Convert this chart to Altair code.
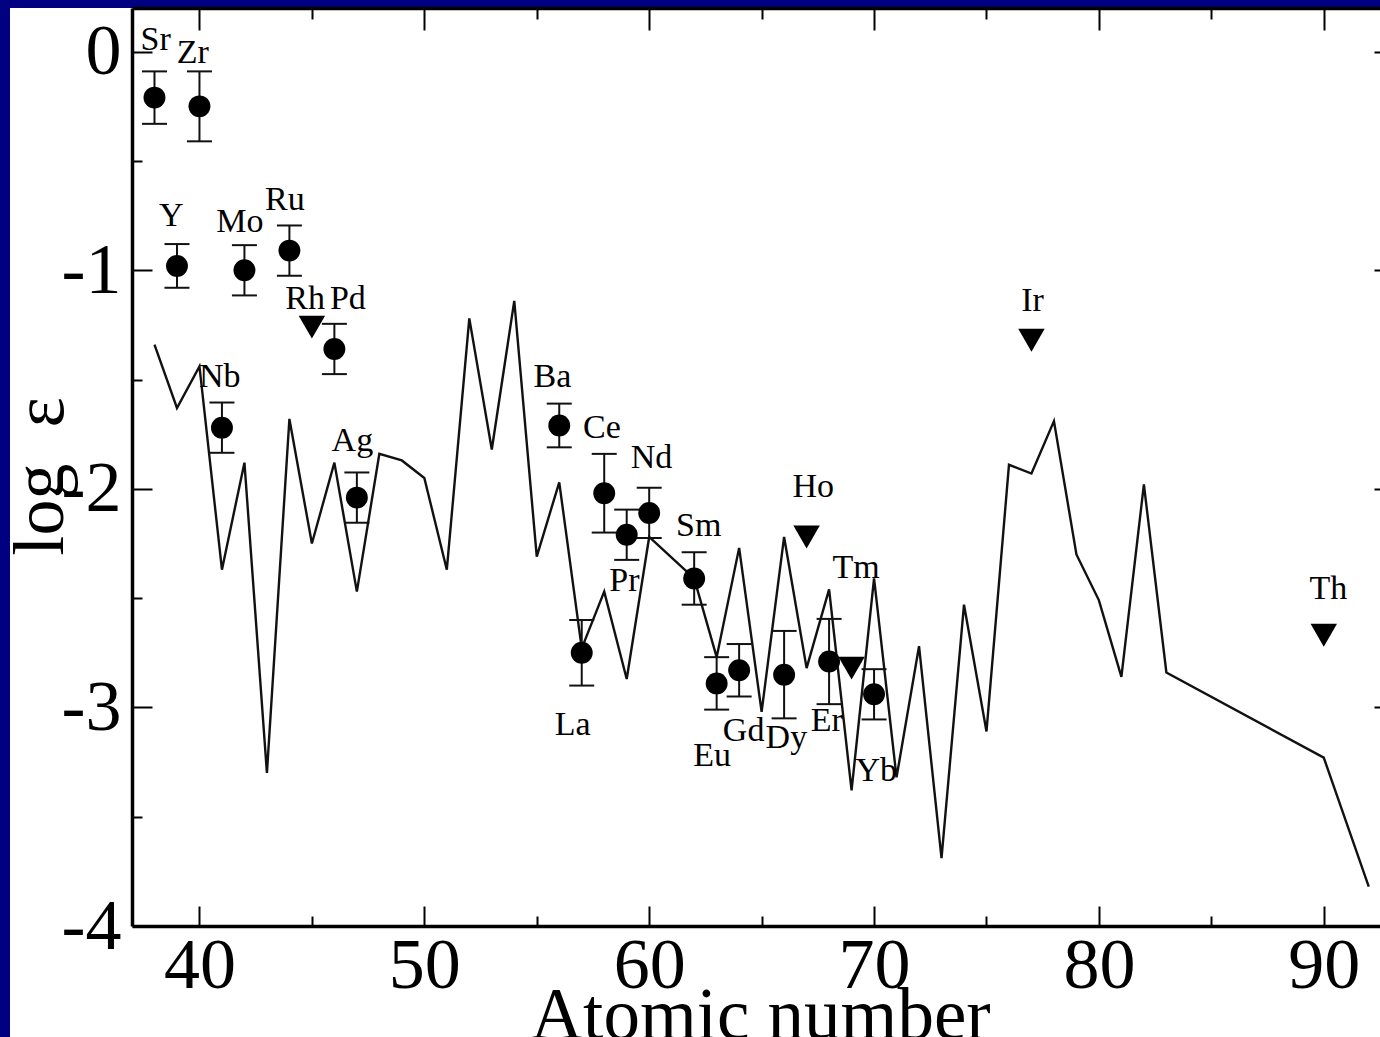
import altair as alt
import pandas as pd

# ---- plot geometry -------------------------------------------------------
W, H = 1248, 918
NAVY = "#000080"
FONT = "Liberation Serif"

# ---- scaled solar-system r-process pattern (the zig-zag curve) -----------
line_z = [38, 39, 40, 41, 42, 43, 44, 45, 46, 47, 48, 49, 50, 51, 52, 53, 54,
          55, 56, 57, 58, 59, 60, 62, 63, 64, 65, 66, 67, 68, 69, 70, 71, 72,
          73, 74, 75, 76, 77, 78, 79, 80, 81, 82, 83, 90, 92]
line_logeps = [-1.34, -1.63, -1.44, -2.37, -1.88, -3.30, -1.68, -2.25, -1.88,
               -2.47, -1.84, -1.87, -1.95, -2.37, -1.22, -1.82, -1.14, -2.31,
               -1.97, -2.73, -2.47, -2.87, -2.22, -2.41, -2.77, -2.27, -3.02,
               -2.22, -2.82, -2.46, -3.38, -2.41, -3.32, -2.72, -3.69, -2.53,
               -3.11, -1.89, -1.93, -1.69, -2.30, -2.51, -2.86, -1.98, -2.84,
               -3.23, -3.82]

# ---- measured abundances with errors -------------------------------------
det_el = ["Sr", "Y", "Zr", "Nb", "Mo", "Ru", "Pd", "Ag", "Ba", "La", "Ce",
          "Pr", "Nd", "Sm", "Eu", "Gd", "Dy", "Er", "Yb"]
det_z = [38, 39, 40, 41, 42, 44, 46, 47, 56, 57, 58, 59, 60, 62, 63, 64, 66,
         68, 70]
det_logeps = [-0.21, -0.98, -0.25, -1.72, -1.00, -0.91, -1.36, -2.04, -1.71,
              -2.75, -2.02, -2.21, -2.11, -2.41, -2.89, -2.83, -2.85, -2.79,
              -2.94]
det_err = [0.12, 0.10, 0.16, 0.115, 0.115, 0.115, 0.115, 0.115, 0.10, 0.15,
           0.18, 0.115, 0.115, 0.12, 0.12, 0.12, 0.20, 0.195, 0.115]

# ---- upper limits ---------------------------------------------------------
lim_el = ["Rh", "Ho", "Tm", "Ir", "Th"]
lim_z = [45, 67, 69, 77, 90]
lim_logeps = [-1.26, -2.22, -2.82, -1.32, -2.67]

# ---- element labels -------------------------------------------------------
lab_text = ["Sr", "Zr", "Y", "Mo", "Ru", "Rh", "Pd", "Nb", "Ag", "Ba", "Ce",
            "Nd", "Pr", "Sm", "La", "Eu", "Gd", "Dy", "Er", "Yb", "Tm", "Ho",
            "Ir", "Th"]
lab_z = [38.05, 39.7, 38.75, 41.8, 43.8, 44.7, 46.6, 40.9, 46.8, 55.7, 57.9,
         60.1, 58.9, 62.2, 56.6, 62.8, 64.2, 66.1, 67.9, 70.1, 69.2, 67.3,
         77.05, 90.2]
lab_logeps = [0.055, -0.005, -0.75, -0.78, -0.68, -1.13, -1.13, -1.49, -1.78,
              -1.49, -1.72, -1.86, -2.42, -2.17, -3.08, -3.22, -3.11, -3.14,
              -3.06, -3.29, -2.36, -1.99, -1.14, -2.46]

x_major = [40, 50, 60, 70, 80, 90]
x_minor = [45, 55, 65, 75, 85]
y_major = [0, -1, -2, -3, -4]
y_minor = [-0.5, -1.5, -2.5, -3.5]

line_df = pd.DataFrame({"z": line_z, "v": line_logeps})
det_df = pd.DataFrame({"el": det_el, "z": det_z, "v": det_logeps, "err": det_err})
det_df["lo"] = det_df["v"] - det_df["err"]
det_df["hi"] = det_df["v"] + det_df["err"]
lim_df = pd.DataFrame({"el": lim_el, "z": lim_z, "v": lim_logeps})
lab_df = pd.DataFrame({"t": lab_text, "z": lab_z, "v": lab_logeps})

xscale = alt.Scale(domain=[37, 92.5], nice=False, zero=False)
yscale = alt.Scale(domain=[-4, 0.2], nice=False, zero=False)


def ax(**kw):
    """Axis with everything off by default; switch on what is needed."""
    base = dict(zindex=2, grid=False, labels=False, ticks=False, domain=False,
                title=None, tickColor="black", domainColor="black",
                tickWidth=2, domainWidth=3.5)
    base.update(kw)
    return alt.Axis(**base)


# bottom axis: tick labels and axis title
x_labels = ax(values=x_major, labels=True, format="d", labelFont=FONT,
              labelFontSize=72, labelColor="black", labelPadding=4,
              tickSize=0, domain=True,
              title="Atomic number", titleFont=FONT, titleFontSize=73,
              titleFontWeight="normal", titleColor="black",
              titleX=628, titleY=112, titleAlign="center",
              titleBaseline="alphabetic")
# inward ticks on the bottom edge
x_bot_major = ax(orient="top", offset=-H, values=x_major, ticks=True, tickSize=20)
x_bot_minor = ax(orient="top", offset=-H, values=x_minor, ticks=True, tickSize=10)
# top frame with inward ticks
x_top_major = ax(orient="bottom", offset=-H, values=x_major, ticks=True,
                 tickSize=22, domain=True)
x_top_minor = ax(orient="bottom", offset=-H, values=x_minor, ticks=True, tickSize=11)

# left axis: tick labels and axis title
y_labels = ax(orient="left", values=y_major, labels=True,
              labelExpr="datum.value == 0 ? '0' : '-' + abs(datum.value)",
              labelFont=FONT, labelFontSize=72, labelColor="black",
              labelPadding=11, tickSize=0, domain=True,
              title="log\u00a0\u00a0\u03b5", titleFont=FONT, titleFontSize=72,
              titleFontWeight="normal", titleColor="black", titleAngle=270,
              titleX=-70, titleY=468, titleAlign="center",
              titleBaseline="alphabetic")
# inward ticks on the left edge
y_left_major = ax(orient="right", offset=-W, values=y_major, ticks=True, tickSize=20)
y_left_minor = ax(orient="right", offset=-W, values=y_minor, ticks=True, tickSize=10)
# short inward ticks on the right edge
y_right_major = ax(orient="left", offset=-W, values=y_major, ticks=True, tickSize=6)

# white panel behind the figure
panel = alt.Chart(pd.DataFrame({"a": [0]})).mark_rect(fill="white").encode(
    x=alt.value(-122), x2=alt.value(W + 20), y=alt.value(0), y2=alt.value(H + 200)
)

curve = alt.Chart(line_df).mark_line(color="#111111", strokeWidth=2.4).encode(
    x=alt.X("z:Q", scale=xscale, axis=x_labels),
    y=alt.Y("v:Q", scale=yscale, axis=y_labels),
)

bars = alt.Chart(det_df).mark_rule(color="#111111", strokeWidth=2).encode(
    x=alt.X("z:Q", scale=xscale, axis=x_bot_major),
    y=alt.Y("lo:Q", scale=yscale, axis=y_left_major),
    y2="hi:Q",
)

caps_hi = alt.Chart(det_df).mark_tick(
    orient="horizontal", size=25, thickness=2, color="#111111", opacity=1
).encode(
    x=alt.X("z:Q", scale=xscale, axis=x_bot_minor),
    y=alt.Y("hi:Q", scale=yscale, axis=y_left_minor),
)

caps_lo = alt.Chart(det_df).mark_tick(
    orient="horizontal", size=25, thickness=2, color="#111111", opacity=1
).encode(
    x=alt.X("z:Q", scale=xscale, axis=x_top_major),
    y=alt.Y("lo:Q", scale=yscale, axis=y_right_major),
)

dots = alt.Chart(det_df).mark_circle(size=480, color="black", opacity=1).encode(
    x=alt.X("z:Q", scale=xscale, axis=x_top_minor),
    y=alt.Y("v:Q", scale=yscale, axis=None),
)

limits = alt.Chart(lim_df).mark_point(
    shape="triangle-down", size=700, filled=True, color="black", opacity=1
).encode(
    x=alt.X("z:Q", scale=xscale, axis=None),
    y=alt.Y("v:Q", scale=yscale, axis=None),
)

labels = alt.Chart(lab_df).mark_text(
    font=FONT, fontSize=34, color="black", align="center", baseline="middle"
).encode(
    x=alt.X("z:Q", scale=xscale, axis=None),
    y=alt.Y("v:Q", scale=yscale, axis=None),
    text="t:N",
)

chart = (
    alt.layer(panel, curve, bars, caps_hi, caps_lo, dots, limits, labels)
    .resolve_axis(x="independent", y="independent")
    .properties(
        width=W,
        height=H,
        background=NAVY,
        padding={"left": 132, "top": 8, "right": 0, "bottom": 111},
        autosize=alt.AutoSizeParams(type="none"),
    )
    .configure_view(strokeWidth=0)
)

chart.save("out.html", embed_options={"renderer": "svg", "actions": False})
